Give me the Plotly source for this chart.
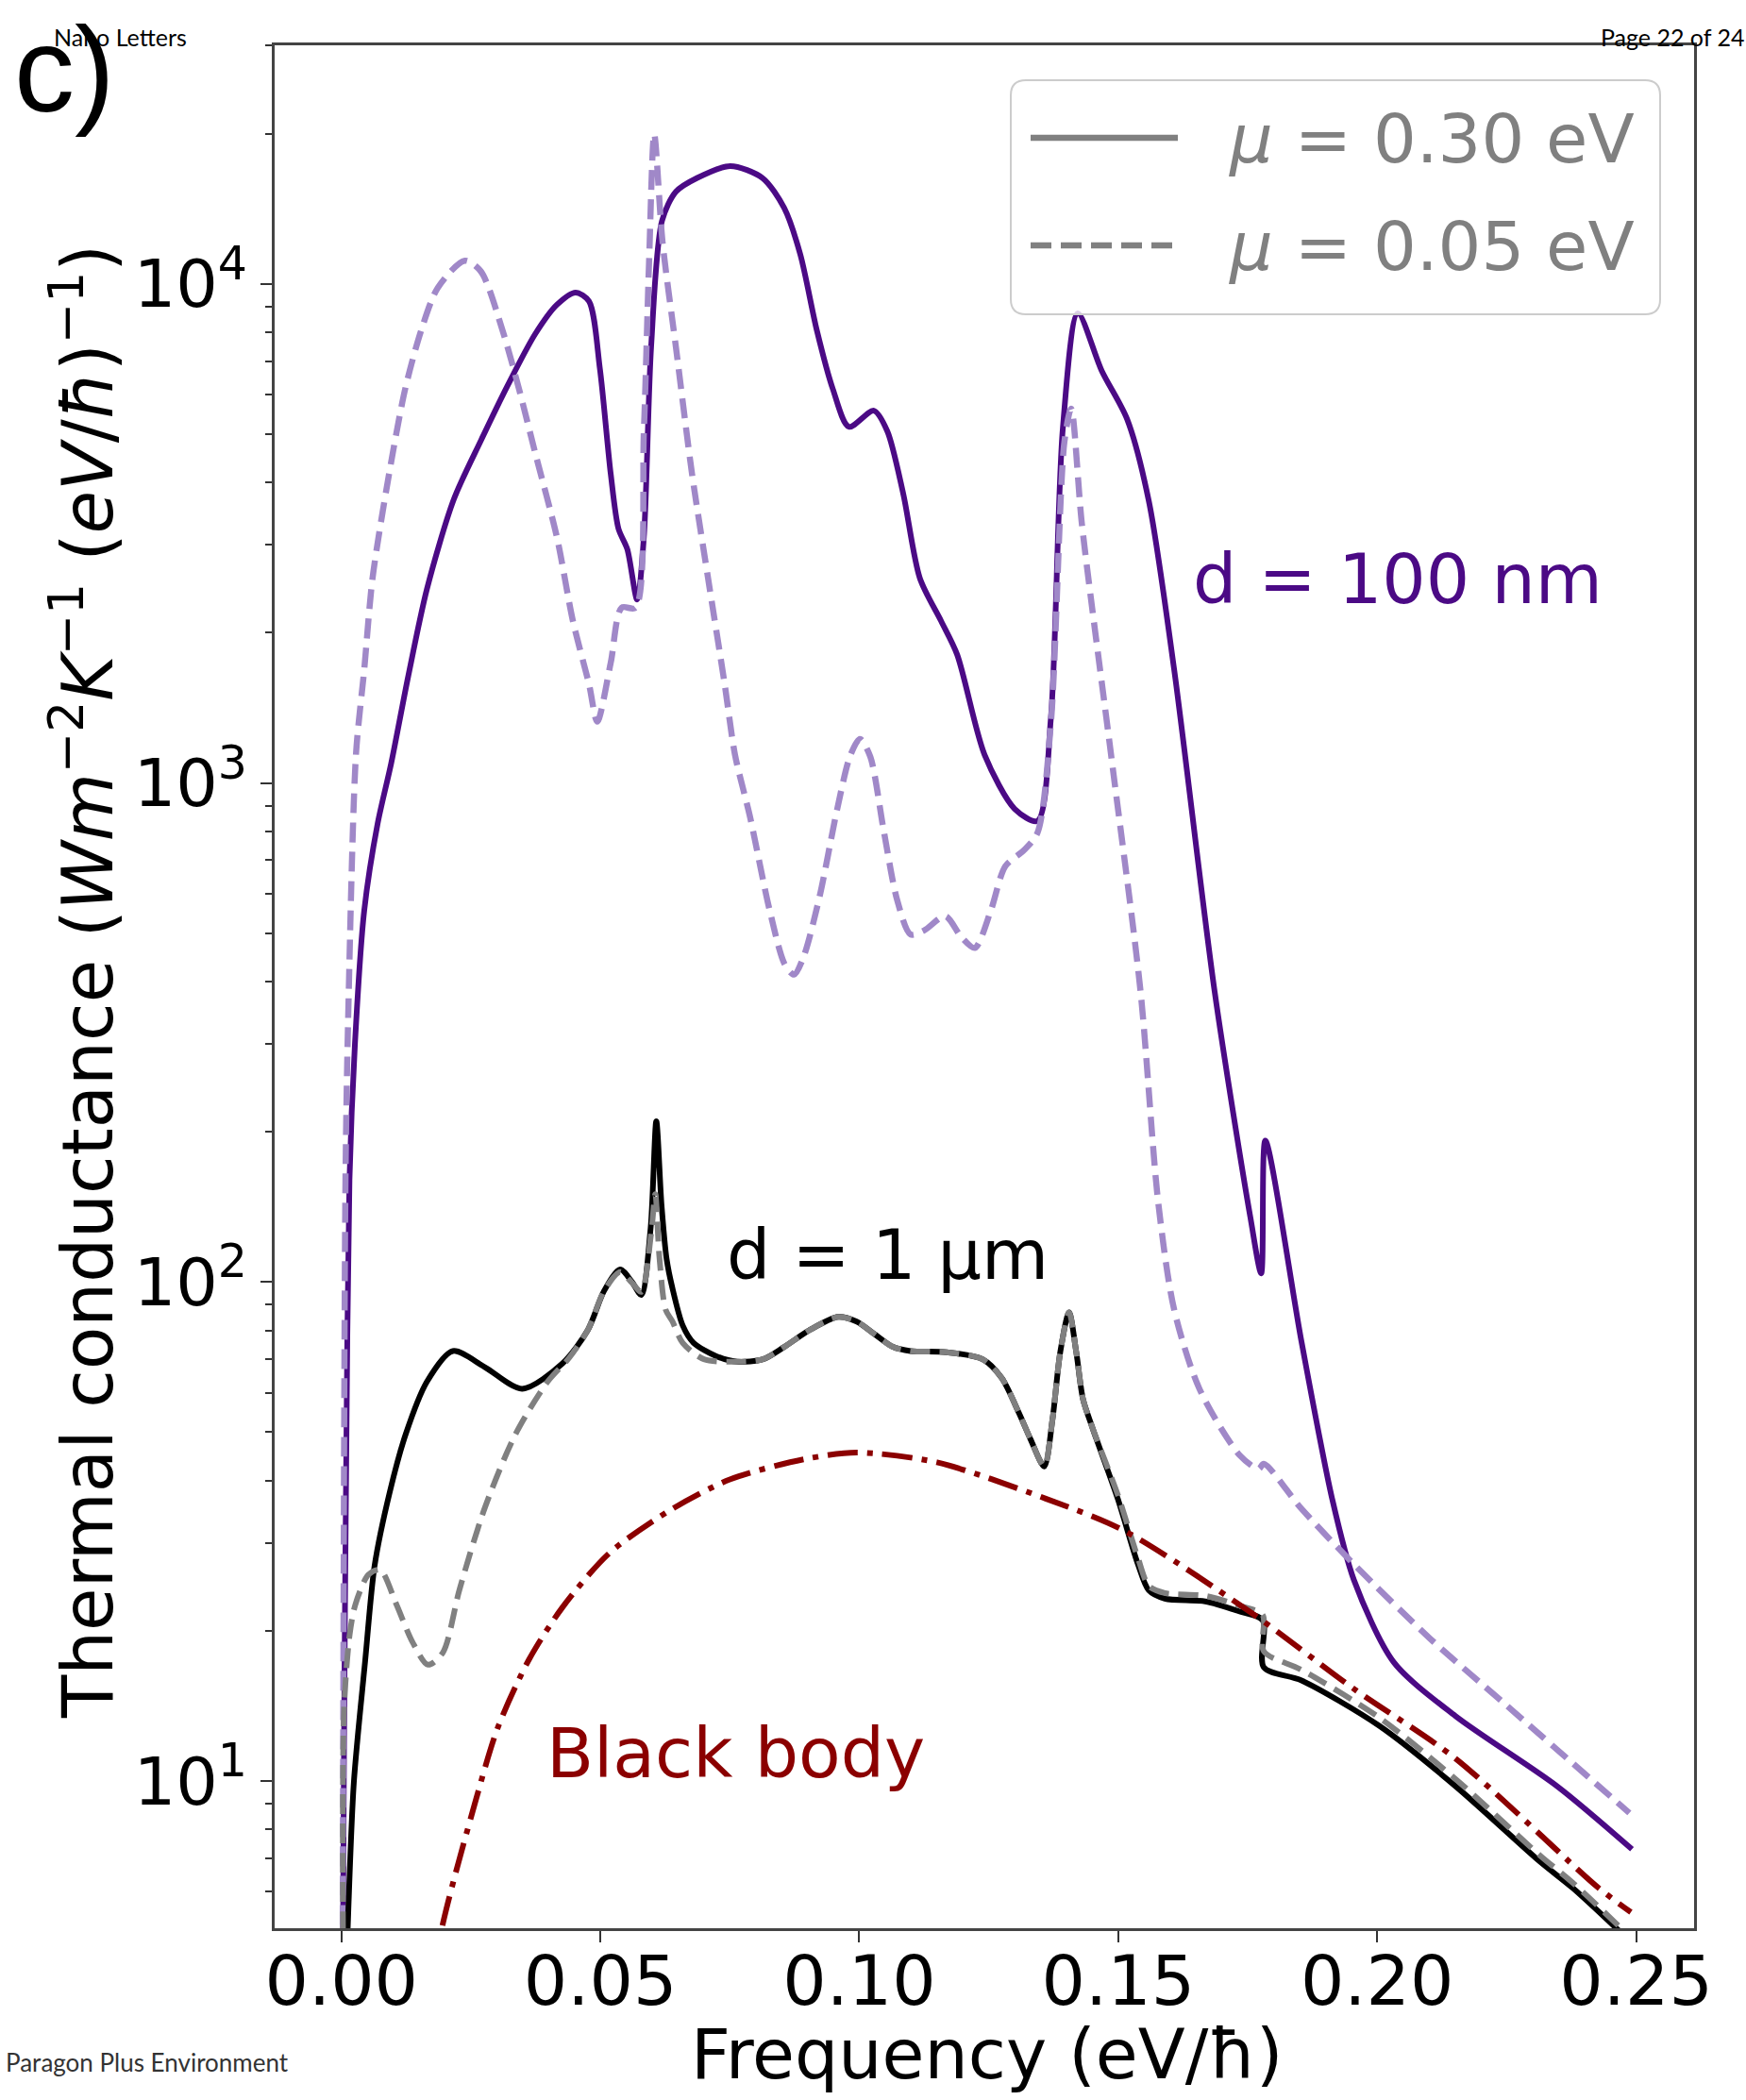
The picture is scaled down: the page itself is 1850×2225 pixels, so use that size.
import plotly.graph_objects as go

# ---------------- data ----------------
# d = 100 nm, mu = 0.30 eV (solid indigo)
p30_x = [0.0002, 0.0005, 0.0009, 0.00155, 0.0026, 0.0044, 0.0070, 0.0096, 0.0129, 0.0165, 0.0217, 0.0270,
         0.0321, 0.0374, 0.0416, 0.0452, 0.0478, 0.0499, 0.0520, 0.0535, 0.0552, 0.0571, 0.0584, 0.0598,
         0.0619, 0.0646, 0.0687, 0.0751, 0.0813, 0.0855, 0.0886, 0.0918, 0.0949, 0.0980, 0.1028, 0.1054,
         0.1085, 0.1117, 0.1158, 0.1189, 0.1242, 0.1300, 0.1344, 0.1370, 0.1393, 0.1422, 0.1468, 0.1517,
         0.1559, 0.1608, 0.1686, 0.1755, 0.1776, 0.1784, 0.1854, 0.1913, 0.1955, 0.2032, 0.2151, 0.2347, 0.2492]
p30_y = [3, 12, 41, 160, 299, 555, 830, 1094, 1637, 2445, 3700, 4870,
         6260, 7930, 9080, 9610, 9230, 6770, 4160, 3230, 2940, 2330, 3110, 7480,
         13370, 15300, 16300, 17220, 16300, 14190, 11460, 8070, 6150, 5170, 5570, 5070,
         3790, 2570, 2110, 1807, 1138, 887, 839, 1352, 5130, 8730, 6700, 5360,
         3675, 1687, 383, 135, 104, 192, 75.8, 36.8, 25.3, 17.3, 13.5, 9.77, 7.3]

# d = 100 nm, mu = 0.05 eV (dashed light purple)
p05_x = [0.0002, 0.00078, 0.0013, 0.0028, 0.0044, 0.0060, 0.0092, 0.0123, 0.0154, 0.0186, 0.0238, 0.0269,
         0.0311, 0.0343, 0.0374, 0.0416, 0.0447, 0.0478, 0.0494, 0.0520, 0.0541, 0.0568, 0.0584, 0.0594,
         0.0604, 0.0620, 0.0646, 0.0677, 0.0708, 0.0740, 0.0760, 0.0789, 0.0827, 0.0856, 0.0874, 0.0892,
         0.0923, 0.0957, 0.0982, 0.1001, 0.1021, 0.1047, 0.1073, 0.1099, 0.1125, 0.1166, 0.1197, 0.1223,
         0.1254, 0.1282, 0.1318, 0.1344, 0.1370, 0.1396, 0.1409, 0.1430, 0.1489, 0.1543, 0.1577, 0.1608,
         0.1657, 0.1735, 0.1771, 0.1781, 0.1854, 0.1955, 0.2102, 0.2249, 0.2487]
p05_y = [3, 160, 339, 1138, 1687, 2570, 4160, 6150, 8070, 9820, 11130, 10600,
         8070, 6150, 4590, 3110, 2110, 1578, 1327, 1741, 2244, 2244, 5070, 11040,
         19950, 12140, 7450, 4160, 2570, 1578, 1138, 855, 555, 433, 413, 447,
         590, 883, 1130, 1225, 1130, 804, 583, 497, 506, 541, 491, 467,
         555, 681, 733, 794, 1320, 4820, 5620, 3290, 1080, 383, 145, 88,
         61, 44.9, 42.2, 43.2, 35.1, 27.2, 19.3, 14.2, 8.63]

# d = 1 um, mu = 0.30 eV (solid black)
b30_x = [0.0009, 0.00116, 0.0024, 0.00458, 0.0064, 0.0093, 0.0124, 0.0165, 0.0215, 0.0277, 0.0349, 0.0427,
         0.0476, 0.0507, 0.0538, 0.0561, 0.0579, 0.0597, 0.0608, 0.0618, 0.0628, 0.0639, 0.0659, 0.0680,
         0.0724, 0.0764, 0.0814, 0.0855, 0.0905, 0.0959, 0.0995, 0.1028, 0.1065, 0.1099, 0.1169, 0.1238,
         0.1275, 0.1308, 0.1331, 0.1357, 0.1373, 0.1388, 0.1405, 0.1419, 0.1432, 0.1450, 0.1499, 0.1538,
         0.1559, 0.1590, 0.1668, 0.1732, 0.1779, 0.1781, 0.1854, 0.2004, 0.2151, 0.2314, 0.2378, 0.2477]
b30_y = [4, 4.9, 9.95, 17.4, 27, 37.8, 49.5, 63.1, 72.7, 67.5, 61.1, 68.7,
         80.2, 95.9, 106, 100, 94.2, 128, 210, 143, 111, 97.3, 81.8, 75.5,
         71, 69.2, 70, 74.1, 80.2, 85.1, 83.3, 78.8, 74.1, 72.7, 72.3, 70,
         64.2, 54.7, 48.3, 42.7, 53, 72.3, 86.9, 72.3, 58.2, 51.1, 36.8, 27.2,
         24.1, 23.2, 22.9, 21.9, 21, 16.9, 15.9, 12.9, 9.77, 6.9, 6.1, 4.9]

# d = 1 um, mu = 0.05 eV (dashed gray)
b05_x = [0.0003, 0.0005, 0.0016, 0.0027, 0.0052, 0.0075, 0.0106, 0.0137, 0.0167, 0.0196, 0.0228, 0.0277,
         0.0336, 0.0398, 0.0440, 0.0476, 0.0507, 0.0538, 0.0561, 0.0579, 0.0598, 0.0606, 0.0614, 0.0626,
         0.0639, 0.0659, 0.0700, 0.0764, 0.0814, 0.0855, 0.0905, 0.0959, 0.0995, 0.1028, 0.1065, 0.1099,
         0.1169, 0.1238, 0.1275, 0.1308, 0.1331, 0.1357, 0.1373, 0.1388, 0.1405, 0.1419, 0.1432, 0.1450,
         0.1499, 0.1538, 0.1559, 0.1590, 0.1668, 0.1732, 0.1779, 0.1781, 0.1854, 0.2004, 0.2151, 0.2314,
         0.2378, 0.2477]
b05_y = [5, 13.9, 19.7, 22.6, 25.9, 26.5, 22.6, 19, 17.1, 18.1, 24.2, 35.3,
         49.5, 63.1, 70.5, 80.2, 95.9, 104.7, 99.6, 95.5, 125, 150, 112, 88,
         83.4, 75.5, 70, 69.2, 70, 74.1, 80.2, 85.1, 83.3, 78.8, 74.1, 72.7,
         72.3, 70, 64.2, 54.7, 48.3, 42.7, 53, 72.3, 86.9, 72.3, 58.2, 51.1,
         37.5, 28, 24.6, 23.8, 23.5, 22.5, 21.5, 18.2, 16.7, 13.4, 10.1, 7.1,
         6.25, 5.0]

# black body (dash-dot dark red)
bb_x = [0.0180, 0.0194, 0.0259, 0.0302, 0.0362, 0.0427, 0.0517, 0.0633, 0.0750, 0.0892, 0.0995,
        0.1150, 0.1360, 0.1510, 0.1755, 0.1955, 0.2151, 0.2428, 0.2490]
bb_y = [4.0, 5.07, 9.12, 12.8, 17.5, 22.3, 28.6, 34.8, 40.2, 44.1, 45.5,
        43.5, 36.8, 31.8, 21.8, 15.3, 11.1, 6.1, 5.46]

x_ticks = [0.0, 0.05, 0.10, 0.15, 0.20, 0.25]
x_ticktext = ["0.00", "0.05", "0.10", "0.15", "0.20", "0.25"]
y_ticks = [10, 100, 1000, 10000]
y_ticktext = ["10<sup>1</sup>", "10<sup>2</sup>", "10<sup>3</sup>", "10<sup>4</sup>"]
y_minor = [m * 10 ** e for e in range(0, 5) for m in range(2, 10)]

legend_labels = ["<i>μ</i> = 0.30 eV", "<i>μ</i> = 0.05 eV"]

# ---------------- layout geometry ----------------
W, H = 1850, 2225
ML, MR, MT, MB = 291, 55, 48, 182
PW, PH = W - ML - MR, H - MT - MB


def fx(p):
    return (p - ML) / PW


def fy(p):
    return 1 - (p - MT) / PH


INDIGO = "#4b0a85"
LPURPLE = "#a088c8"
GRAY = "#808080"
DARKRED = "#8b0000"
FONT = "DejaVu Sans"

fig = go.Figure()
fig.add_trace(go.Scatter(x=p30_x, y=p30_y, mode="lines",
                         line=dict(color=INDIGO, width=6, shape="spline", smoothing=0.8), showlegend=False))
fig.add_trace(go.Scatter(x=p05_x, y=p05_y, mode="lines",
                         line=dict(color=LPURPLE, width=6.5, dash="21px,10px", shape="spline", smoothing=0.8),
                         showlegend=False))
fig.add_trace(go.Scatter(x=b30_x, y=b30_y, mode="lines",
                         line=dict(color="black", width=6, shape="spline", smoothing=0.8), showlegend=False))
fig.add_trace(go.Scatter(x=b05_x, y=b05_y, mode="lines",
                         line=dict(color=GRAY, width=6, dash="21px,10px", shape="spline", smoothing=0.8),
                         showlegend=False))
fig.add_trace(go.Scatter(x=bb_x, y=bb_y, mode="lines",
                         line=dict(color=DARKRED, width=6, dash="32px,10px,6px,10px", shape="spline", smoothing=0.8),
                         showlegend=False))

# legend box (rounded, semi transparent) drawn on top of the curves
x0, x1 = fx(1071), fx(1759)
y0, y1 = fy(333), fy(85)
rx, ry = 16 / PW, 16 / PH
path = (f"M{x0 + rx},{y1} L{x1 - rx},{y1} Q{x1},{y1} {x1},{y1 - ry} L{x1},{y0 + ry} Q{x1},{y0} {x1 - rx},{y0} "
        f"L{x0 + rx},{y0} Q{x0},{y0} {x0},{y0 + ry} L{x0},{y1 - ry} Q{x0},{y1} {x0 + rx},{y1} Z")
shapes = [dict(type="path", xref="paper", yref="paper", path=path, fillcolor="rgba(255,255,255,0.8)",
               line=dict(color="#cccccc", width=2), layer="above")]
shapes.append(dict(type="line", xref="paper", yref="paper", x0=fx(1092), x1=fx(1248), y0=fy(146), y1=fy(146),
                   line=dict(color=GRAY, width=6.5), layer="above"))
shapes.append(dict(type="line", xref="paper", yref="paper", x0=fx(1092), x1=fx(1248), y0=fy(260), y1=fy(260),
                   line=dict(color=GRAY, width=6.5, dash="22px,10px"), layer="above"))

annotations = [
    dict(text=legend_labels[0], x=fx(1300), y=fy(147), xanchor="left", yanchor="middle",
         font=dict(family=FONT, size=72, color=GRAY)),
    dict(text=legend_labels[1], x=fx(1300), y=fy(261), xanchor="left", yanchor="middle",
         font=dict(family=FONT, size=72, color=GRAY)),
    dict(text="d = 100 nm", x=fx(1262), y=fy(614), xanchor="left", yanchor="middle",
         font=dict(family=FONT, size=73, color=INDIGO)),
    dict(text="d = 1 μm", x=fx(768), y=fy(1329), xanchor="left", yanchor="middle",
         font=dict(family=FONT, size=73, color="black")),
    dict(text="Black body", x=fx(577), y=fy(1857), xanchor="left", yanchor="middle",
         font=dict(family=FONT, size=73, color=DARKRED)),
    # axis titles
    dict(text="Frequency (eV/ħ)", x=fx(1045), y=fy(2176), xanchor="center", yanchor="middle",
         font=dict(family=FONT, size=73, color="black")),
    dict(text="Thermal conductance (<i>Wm</i><sup>−2</sup><i>K</i><sup>−1</sup> (<i>eV</i>/<i>ħ</i>)<sup>−1</sup>)",
         x=fx(88), y=fy(1040), xanchor="center", yanchor="middle", textangle=-90,
         font=dict(family=FONT, size=74, color="black")),
    # page furniture
    dict(text="c)", x=fx(14), y=fy(1), xanchor="left", yanchor="top", borderpad=0,
         font=dict(family="Liberation Sans", size=128, color="black")),
    dict(text="Nano Letters", x=fx(55), y=fy(56), xanchor="left", yanchor="bottom",
         font=dict(family="Lato", size=25, color="black")),
    dict(text="Page 22 of 24", x=fx(1850), y=fy(56), xanchor="right", yanchor="bottom",
         font=dict(family="Lato", size=25, color="black")),
    dict(text="Paragon Plus Environment", x=fx(4), y=fy(2185), xanchor="left", yanchor="middle",
         font=dict(family="Lato", size=26, color="#333333")),
]
for a in annotations:
    a.update(xref="paper", yref="paper", showarrow=False)

fig.update_layout(
    width=W, height=H, margin=dict(l=ML, r=MR, t=MT, b=MB, pad=0),
    paper_bgcolor="white", plot_bgcolor="white",
    shapes=shapes, annotations=annotations, showlegend=False,
    xaxis=dict(range=[-0.0129, 0.2612], tickvals=x_ticks, ticktext=x_ticktext, ticks="outside", ticklen=12,
               tickwidth=2, tickcolor="#333", showline=True, linecolor="#444", linewidth=3, mirror=True,
               showgrid=False, zeroline=False, ticklabelstandoff=-22,
               tickfont=dict(family=FONT, size=73, color="black")),
    yaxis=dict(type="log", range=[0.705, 4.478], tickvals=y_ticks, ticktext=y_ticktext, ticks="outside",
               ticklen=12, tickwidth=2, tickcolor="#333", showline=True, linecolor="#444", linewidth=3,
               mirror=True, showgrid=False, zeroline=False, tickfont=dict(family=FONT, size=70, color="black"),
               minor=dict(tickvals=y_minor, ticks="outside", ticklen=7, tickwidth=1.5, tickcolor="#333",
                          showgrid=False)),
)

fig.write_html("out.html")
